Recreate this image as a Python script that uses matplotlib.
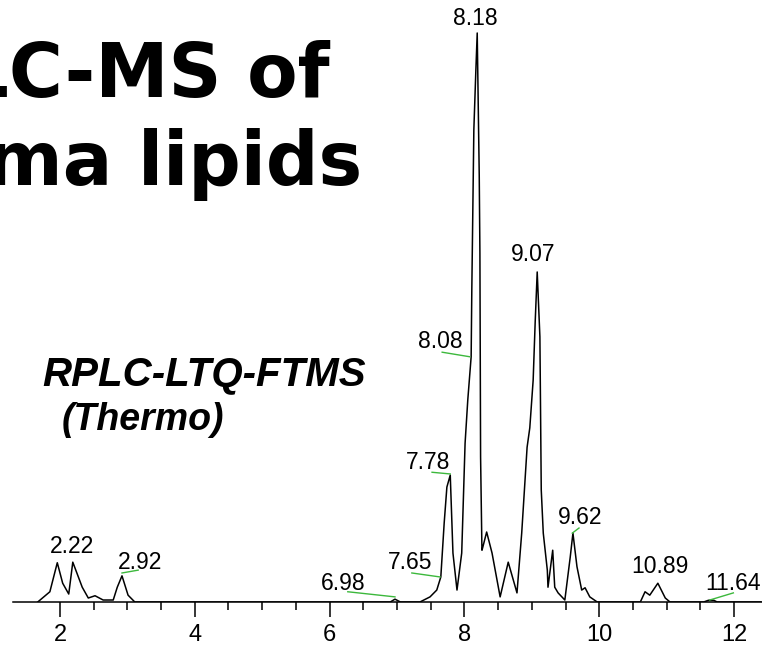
import matplotlib.pyplot as plt
from matplotlib import font_manager

# retention time (min) and relative abundance (%)
rt = [1.67, 1.85, 1.96, 2.04, 2.13, 2.19, 2.33, 2.42, 2.52, 2.64, 2.79, 2.85, 2.92, 3.01, 3.11,
      6.90, 6.97, 7.05,
      7.34, 7.49, 7.59, 7.65, 7.70, 7.74, 7.79, 7.83, 7.89, 7.96, 8.01, 8.05, 8.10, 8.11, 8.14,
      8.17, 8.19, 8.22, 8.23, 8.24, 8.26, 8.27, 8.33, 8.41, 8.53, 8.65, 8.78, 8.85, 8.93, 8.97,
      9.02, 9.05, 9.08, 9.12, 9.14, 9.17, 9.23, 9.24, 9.31, 9.34, 9.39, 9.49, 9.57, 9.61,
      9.67, 9.74, 9.79, 9.86, 9.97,
      10.61, 10.68, 10.75, 10.87, 10.98, 11.05,
      11.55, 11.62, 11.70, 11.75, 12.40]
abundance = [0, 1.8, 6.9, 3.3, 1.4, 7.0, 2.6, 0.7, 1.1, 0.35, 0.35, 2.6, 4.6, 1.2, 0,
             0, 0.5, 0,
             0, 0.9, 2.1, 4.4, 13.9, 20.2, 22.3, 8.6, 2.1, 8.6, 27.9, 35.5, 43.1, 55.0, 83.0,
             93.5, 100, 75.0, 61.3, 25.5, 9.1, 9.5, 12.3, 8.6, 0.9, 7.0, 1.6, 12.1, 27.2, 30.6,
             39.0, 49.2, 58.0, 46.6, 19.7, 12.1, 5.6, 2.6, 9.1, 2.6, 1.6, 0.35, 7.9, 12.1,
             6.2, 2.1, 2.5, 0.9, 0,
             0, 1.8, 1.2, 3.3, 0.7, 0,
             0, 0.3, 0.3, 0, 0]

# peak labels: text, label position, leader line (None = no line)
peak_labels = ["2.22", "2.92", "6.98", "7.65", "7.78", "8.08", "8.18", "9.07", "9.62", "10.89", "11.64"]
label_x = [2.18, 3.19, 6.20, 7.19, 7.46, 7.64, 8.16, 9.02, 9.72, 10.90, 11.99]
label_y = [9.7, 7.0, 3.3, 6.9, 24.6, 45.7, 102.6, 61.0, 14.9, 6.2, 3.3]
leaders = [None,
           ((2.92, 3.16), (5.1, 5.6)),
           ((6.27, 6.97), (1.8, 0.9)),
           ((7.22, 7.64), (5.1, 4.4)),
           ((7.52, 7.79), (22.8, 22.5)),
           ((7.67, 8.08), (43.9, 43.1)),
           None, None,
           ((9.60, 9.70), (12.1, 13.0)),
           None,
           ((11.64, 11.99), (0.35, 1.6))]

names = {f.name for f in font_manager.fontManager.ttflist}
num_font = "Liberation Sans" if "Liberation Sans" in names else "DejaVu Sans"

fig = plt.figure(figsize=(7.62, 6.46), dpi=100)
ax = fig.add_axes([13 / 762, 44 / 646, 749 / 762, 602 / 646])

ax.plot(rt, abundance, color="black", lw=1.1)

for txt, x, y, ld in zip(peak_labels, label_x, label_y, leaders):
    ax.text(x, y, txt, ha="center", va="center", fontsize=16.5, family=num_font)
    if ld is not None:
        ax.plot(ld[0], ld[1], color="#3cb83c", lw=1.0)

ax.set_xlim(1.303, 12.415)
ax.set_ylim(0, 105.8)
for s in ["top", "left", "right"]:
    ax.spines[s].set_visible(False)
ax.spines["bottom"].set_linewidth(1.1)
ax.set_yticks([])
ax.set_xticks([2, 4, 6, 8, 10, 12])
ax.set_xticks([2.5, 3, 3.5, 4.5, 5, 5.5, 6.5, 7, 7.5, 8.5, 9, 9.5, 10.5, 11, 11.5], minor=True)
ax.tick_params(axis="x", which="major", direction="out", length=10.5, width=1.1, pad=5,
               labelsize=17)
ax.tick_params(axis="x", which="minor", direction="out", length=5.8, width=1.1)
for lab in ax.get_xticklabels():
    lab.set_family(num_font)
ax.patch.set_alpha(0)

# slide title (cut at the left edge in the original) and instrument note
fig.text(330 / 762, 1 - 97 / 646, "LC-MS of", ha="right", va="baseline",
         fontsize=53, fontweight="bold", family="DejaVu Sans")
fig.text(362 / 762, 1 - 185 / 646, "ma lipids", ha="right", va="baseline",
         fontsize=53, fontweight="bold", family="DejaVu Sans")
fig.text(42 / 762, 1 - 385 / 646, "RPLC-LTQ-FTMS", ha="left", va="baseline",
         fontsize=29, fontweight="bold", style="italic", family=num_font)
fig.text(62 / 762, 1 - 430 / 646, "(Thermo)", ha="left", va="baseline",
         fontsize=27, fontweight="bold", style="italic", family=num_font)

fig.savefig("out.png", dpi=100)
